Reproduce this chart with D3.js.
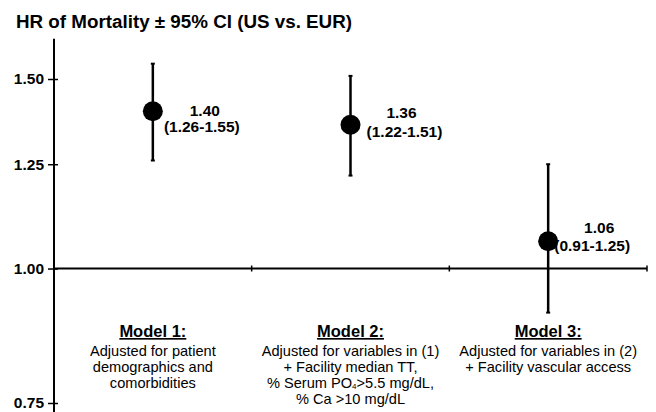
<!DOCTYPE html>
<html>
<head>
<meta charset="utf-8">
<script src="https://cdn.jsdelivr.net/npm/d3@7"></script>
<style>
  html, body { margin: 0; padding: 0; background: #fff; }
  svg { display: block; font-family: "Liberation Sans", Arial, sans-serif; }
</style>
</head>
<body>
<svg id="chart" width="656" height="412"></svg>
<script>
// Hazard ratios of mortality (US vs. EUR) with 95% confidence intervals
const models = ["Model 1:", "Model 2:", "Model 3:"];
const hazardRatio = [1.40, 1.36, 1.06];
const ciLow = [1.26, 1.22, 0.91];
const ciHigh = [1.55, 1.51, 1.25];
const yTicks = [0.75, 1.00, 1.25, 1.50];
const descriptions = [
  ["Adjusted for patient", "demographics and", "comorbidities"],
  ["Adjusted for variables in (1)", "+ Facility median TT,", "% Serum PO|4|>5.5 mg/dL,", "% Ca >10 mg/dL"],
  ["Adjusted for variables in (2)", "+ Facility vascular access"]
];

const svg = d3.select("#chart");
const fmt = d3.format(".2f");

const y = d3.scaleLog().domain([0.75, 1.5]).range([403, 79]);
const x = d3.scaleBand().domain(models).range([54, 647]);
const x0 = 54;

// Title
svg.append("text")
  .attr("x", 16).attr("y", 28)
  .attr("font-size", 18).attr("font-weight", "bold")
  .attr("textLength", 336).attr("lengthAdjust", "spacingAndGlyphs")
  .text("HR of Mortality \u00b1 95% CI (US vs. EUR)");

// Vertical axis line
svg.append("line")
  .attr("x1", x0).attr("x2", x0)
  .attr("y1", y(1.635)).attr("y2", y(0.73))
  .attr("stroke", "#000").attr("stroke-width", 2);

// Y ticks and labels
const yAxis = svg.append("g")
  .attr("transform", `translate(${x0},0)`)
  .call(d3.axisLeft(y).tickValues(yTicks).tickFormat(fmt).tickSize(6).tickPadding(4));
yAxis.select(".domain").remove();
yAxis.selectAll(".tick line").attr("x1", 4).attr("stroke", "#000").attr("stroke-width", 1.5);
yAxis.selectAll(".tick text")
  .attr("font-size", 15.5).attr("font-weight", "bold")
  .attr("font-family", "Liberation Sans, Arial, sans-serif")
  .attr("fill", "#000");

// Horizontal reference line at HR = 1
const yRef = y(1);
svg.append("line")
  .attr("x1", x0).attr("x2", x.range()[1])
  .attr("y1", yRef).attr("y2", yRef)
  .attr("stroke", "#000").attr("stroke-width", 2);

// Category boundary ticks on the reference line
models.forEach((m, i) => {
  const bx = x(m) + x.bandwidth();
  svg.append("line")
    .attr("x1", bx).attr("x2", bx)
    .attr("y1", yRef - 3).attr("y2", yRef + 3)
    .attr("stroke", "#000").attr("stroke-width", 1.5);
});

// Confidence interval bars and point estimates
const cx = i => x(models[i]) + x.bandwidth() / 2;
const g = svg.append("g");
models.forEach((m, i) => {
  g.append("line")
    .attr("x1", cx(i)).attr("x2", cx(i))
    .attr("y1", y(ciHigh[i])).attr("y2", y(ciLow[i]))
    .attr("stroke", "#000").attr("stroke-width", 2.5);
  [ciHigh[i], ciLow[i]].forEach(v => {
    g.append("line")
      .attr("x1", cx(i) - 2).attr("x2", cx(i) + 2)
      .attr("y1", y(v)).attr("y2", y(v))
      .attr("stroke", "#000").attr("stroke-width", 2);
  });
  g.append("circle")
    .attr("cx", cx(i)).attr("cy", y(hazardRatio[i]))
    .attr("r", 10).attr("fill", "#000");
});

// Value labels beside each estimate
const labelPos = [
  { vx: 52, vy: 5, cx: 49, cy: 21 },
  { vx: 51, vy: -7, cx: 54, cy: 12 },
  { vx: 51, vy: -8, cx: 44, cy: 10 }
];
models.forEach((m, i) => {
  const px = cx(i), py = y(hazardRatio[i]);
  const p = labelPos[i];
  g.append("text")
    .attr("x", px + p.vx).attr("y", py + p.vy)
    .attr("text-anchor", "middle")
    .attr("font-size", 15.5).attr("font-weight", "bold")
    .text(fmt(hazardRatio[i]));
  g.append("text")
    .attr("x", px + p.cx).attr("y", py + p.cy)
    .attr("text-anchor", "middle")
    .attr("font-size", 15.5).attr("font-weight", "bold")
    .text(`(${fmt(ciLow[i])}-${fmt(ciHigh[i])})`);
});

// Model descriptions below the reference line
models.forEach((m, i) => {
  const t = svg.append("g").attr("transform", `translate(${cx(i)},0)`);
  t.append("text")
    .attr("x", 0).attr("y", 337)
    .attr("text-anchor", "middle")
    .attr("font-size", 16.5).attr("font-weight", "bold")
    .attr("text-decoration", "underline")
    .text(m);
  descriptions[i].forEach((line, j) => {
    const txt = t.append("text")
      .attr("x", 0).attr("y", 355.5 + j * 16.2)
      .attr("text-anchor", "middle")
      .attr("font-size", 14.6);
    // Segments wrapped in |...| are drawn as subscripts
    line.split("|").forEach((part, k) => {
      const span = txt.append("tspan").text(part);
      if (k % 2 === 1) span.attr("font-size", 8).attr("dy", 1);
      else if (k > 0) span.attr("dy", -1);
    });
  });
});
</script>
</body>
</html>
